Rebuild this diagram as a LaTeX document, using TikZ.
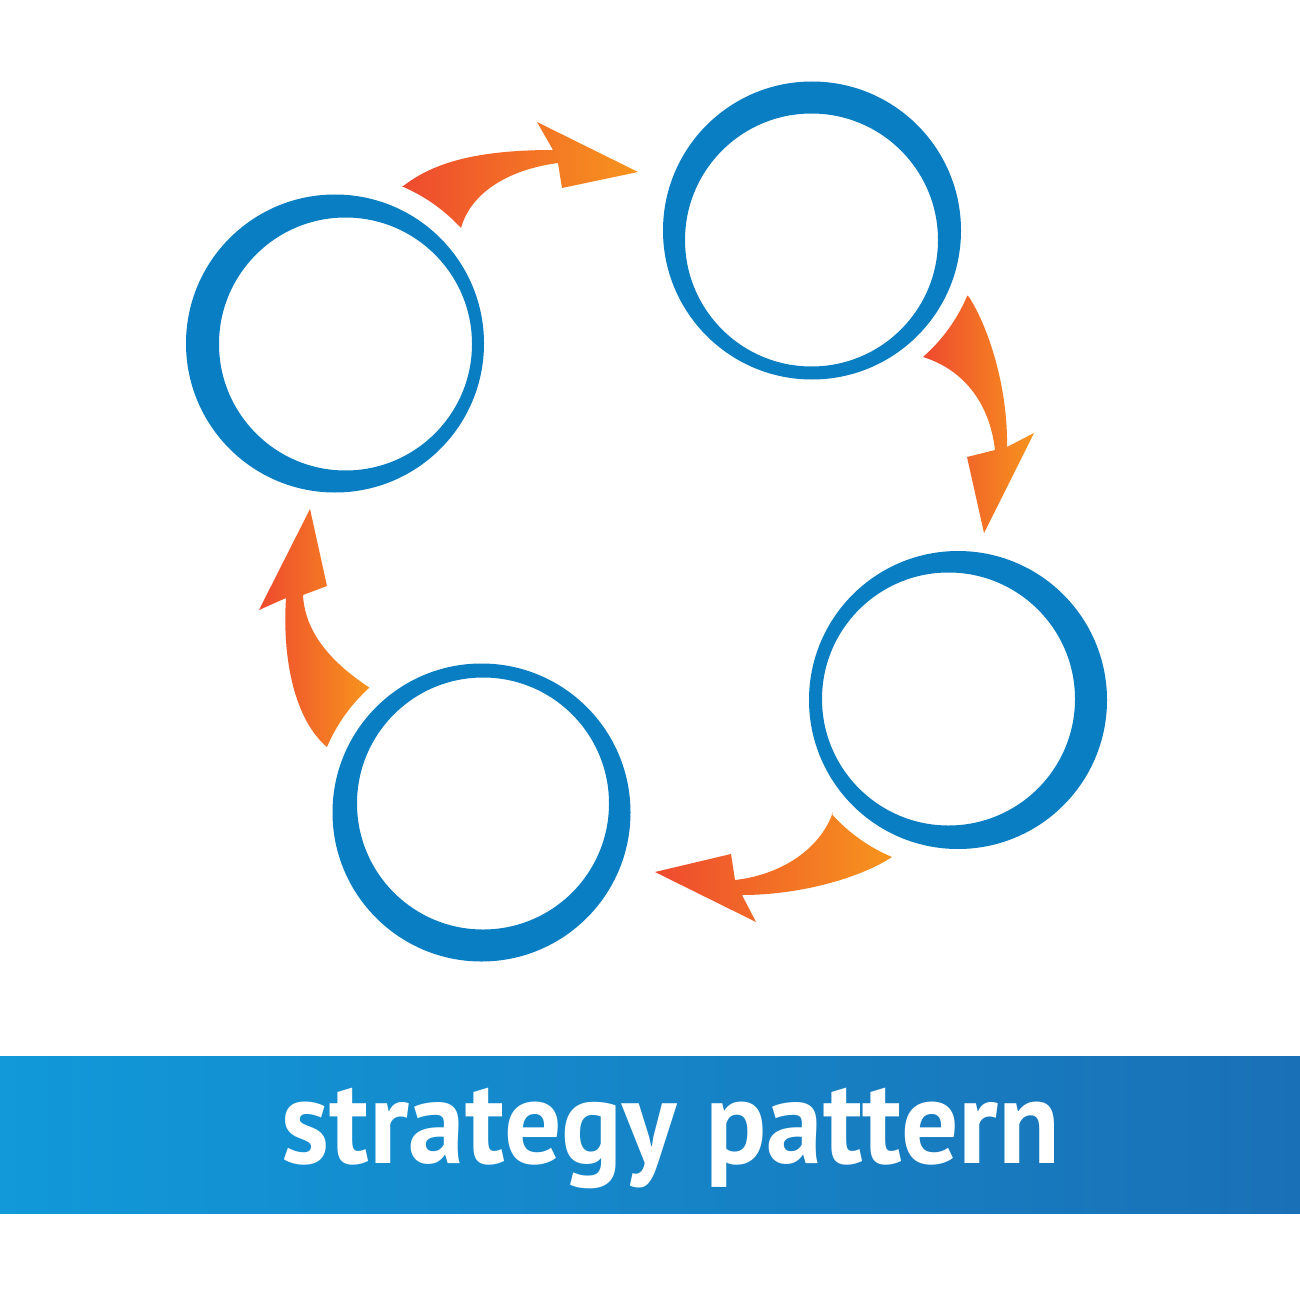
\documentclass[tikz,border=0pt]{standalone}
\usepackage{fontspec}
\newfontfamily\bannerfont{PT Sans}
\definecolor{ringblue}{HTML}{0A7EC2}
\definecolor{arrred}{HTML}{EE4A2F}
\definecolor{arrorange}{HTML}{F7941D}
\definecolor{bannerL}{HTML}{1199D9}
\definecolor{bannerR}{HTML}{1A70B6}
\tikzset{
  ring/.style={fill=ringblue, even odd rule},
  flowarrow/.style={left color=arrred, right color=arrorange, draw=none},
}
\begin{document}
\begin{tikzpicture}[x=0.01cm, y=-0.01cm]
\useasboundingbox (0,0) rectangle (1300,1300);
\fill[white] (0,0) rectangle (1300,1300);

% ring centres (outer / inner)
\coordinate (c1) at (335,343.5);  \coordinate (c1i) at (345.5,344);
\coordinate (c2) at (812,230.5);  \coordinate (c2i) at (811.5,240);
\coordinate (c3) at (958,700);    \coordinate (c3i) at (948.5,699);
\coordinate (c4) at (481.5,812.5);\coordinate (c4i) at (483,803.5);

\fill[ring] (c1) circle[radius=149] (c1i) circle[radius=126.5];
\fill[ring] (c2) circle[radius=149] (c2i) circle[radius=126.5];
\fill[ring] (c3) circle[radius=149] (c3i) circle[radius=126.5];
\fill[ring] (c4) circle[radius=149] (c4i) circle[radius=126];

% arrow 1 : ring 1 -> ring 2
\shade[flowarrow] (402,187) .. controls (430,165) and (470,150) .. (553,150)
  -- (537,122) -- (638,172) -- (562,188) -- (558,163)
  .. controls (505,170) and (470,195) .. (461,228)
  arc[start angle=-42.6, end angle=-66.9, radius=171] -- cycle;

% arrow 2 : ring 2 -> ring 3
\shade[flowarrow] (969,297) .. controls (990,330) and (1008,390) .. (1007,447)
  -- (1034,433) -- (984,533) -- (967,457) -- (995,450)
  .. controls (990,405) and (965,370) .. (923,357)
  arc[start angle=48.7, end angle=22.95, radius=170] -- cycle;

% arrow 3 : ring 3 -> ring 4
\shade[flowarrow] (833,812) .. controls (820,850) and (780,875) .. (735,880)
  -- (731,854) -- (655,872) -- (756,922) -- (742,895)
  .. controls (800,895) and (860,878) .. (892,857)
  arc[start angle=112.8, end angle=138.1, radius=169] -- cycle;

% arrow 4 : ring 4 -> ring 1
\shade[flowarrow] (286,598) .. controls (282,660) and (295,720) .. (327,747)
  arc[start angle=-157, end angle=-131.9, radius=168]
  .. controls (335,665) and (305,635) .. (303,595)
  -- (327,586) -- (310,509) -- (259,610) -- cycle;

% banner
\shade[left color=bannerL, right color=bannerR] (0,1056) rectangle (1300,1213);
\node[anchor=base, inner sep=0, text=white, font=\bannerfont\bfseries\fontsize{34pt}{40pt}\selectfont]
  (title) at (671,1163) {\scalebox{0.95}[1]{strategy pattern}};
\end{tikzpicture}
\end{document}
